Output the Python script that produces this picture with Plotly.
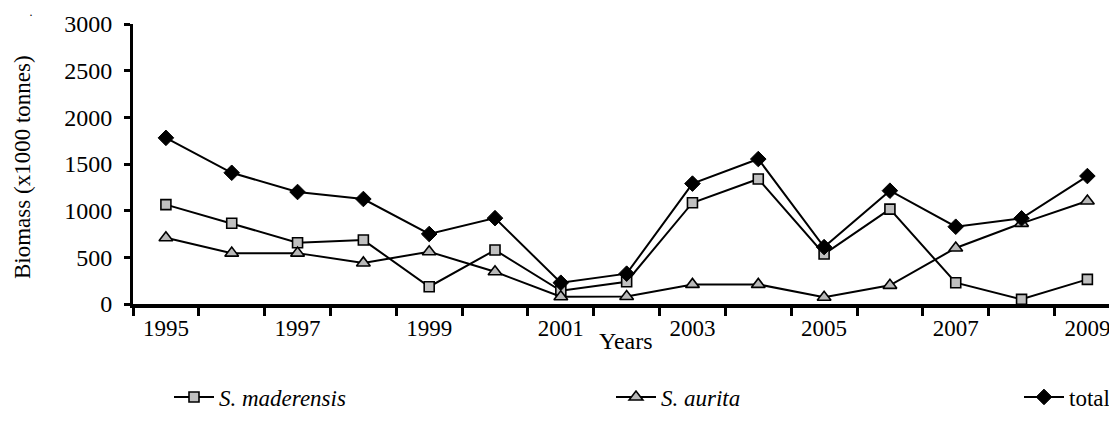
import plotly.graph_objects as go

years = list(range(1995, 2010))
s_maderensis = [1065, 865, 657, 685, 185, 578, 142, 239, 1085, 1339, 535, 1017, 228, 50, 264]
s_aurita = [710, 545, 545, 440, 560, 345, 78, 80, 210, 210, 72, 200, 600, 864, 1103]
total = [1780, 1406, 1200, 1125, 750, 920, 228, 325, 1290, 1553, 610, 1214, 828, 918, 1371]

x_label_years = [1995, 1997, 1999, 2001, 2003, 2005, 2007, 2009]
boundaries = [y - 0.5 for y in years] + [2009.5]

FONT = "Liberation Serif"
# the page body adds an 8px offset, so the figure is 8px smaller than the window
W, H = 1109, 419
PL, PT, PH = 125, 16, 280          # plot-area left, top, height in figure px
PB = PT + PH                        # plot-area bottom
PW = W - PL


def px_x(sx):
    """screen x -> paper x"""
    return (sx - 8 - PL) / PW


def px_y(sy):
    """screen y -> paper y"""
    return (PB - (sy - 8)) / PH


fig = go.Figure()
fig.add_trace(go.Scatter(
    x=years, y=s_maderensis, mode="lines+markers", name="<i>S. maderensis</i>",
    line=dict(color="black", width=2),
    marker=dict(symbol="square", size=10, color="#c0c0c0", line=dict(color="black", width=1.6)),
    legend="legend"))
fig.add_trace(go.Scatter(
    x=years, y=s_aurita, mode="lines+markers", name="<i>S. aurita</i>",
    line=dict(color="black", width=2),
    marker=dict(symbol="triangle-up", size=12, color="#b8b8b8", line=dict(color="black", width=1.6)),
    legend="legend2"))
fig.add_trace(go.Scatter(
    x=years, y=total, mode="lines+markers", name="total",
    line=dict(color="black", width=2),
    marker=dict(symbol="diamond", size=12, color="black", line=dict(color="black", width=1)),
    legend="legend3"))

legend_common = dict(orientation="h", yanchor="middle", y=1 - (397 - 8) / H,
                     xref="container", yref="container", itemwidth=40,
                     font=dict(family=FONT, size=23, color="black"),
                     bgcolor="rgba(0,0,0,0)", borderwidth=0)
fig.update_layout(
    legend=dict(x=(169 - 8) / W, xanchor="left", **legend_common),
    legend2=dict(x=(611 - 8) / W, xanchor="left", **legend_common),
    legend3=dict(x=(1019 - 8) / W, xanchor="left", **legend_common),
)

fig.update_xaxes(
    range=[1994.5, 2009.45],
    tickmode="array", tickvals=x_label_years, ticktext=[str(v) for v in x_label_years],
    ticks="", showgrid=False, zeroline=False, tickangle=0,
    showline=True, linecolor="black", linewidth=4,
    tickfont=dict(family=FONT, size=23, color="black"),
    minor=dict(tickmode="array", tickvals=boundaries, ticks="outside", ticklen=8,
               tickwidth=3, tickcolor="black", showgrid=False),
    automargin=False,
)
fig.update_yaxes(
    range=[0, 3000], tickmode="linear", tick0=0, dtick=500,
    ticks="outside", ticklen=6, tickwidth=3, tickcolor="black",
    showgrid=False, zeroline=False,
    showline=True, linecolor="black", linewidth=3,
    tickfont=dict(family=FONT, size=24, color="black"),
    ticklabelstandoff=7,
    automargin=False,
)

# axis titles
fig.add_annotation(text="Years", xref="paper", yref="paper",
                   x=px_x(626), y=px_y(341), xanchor="center", yanchor="middle",
                   showarrow=False, font=dict(family=FONT, size=24, color="black"))
fig.add_annotation(text="Biomass (x1000 tonnes)", xref="paper", yref="paper",
                   x=px_x(22), y=px_y(167), xanchor="center", yanchor="middle", textangle=-90,
                   showarrow=False, font=dict(family=FONT, size=23, color="black"))
fig.add_annotation(text="·", xref="paper", yref="paper",
                   x=px_x(31), y=px_y(15), xanchor="center", yanchor="middle",
                   showarrow=False, font=dict(family=FONT, size=12, color="black"))

fig.update_layout(
    width=W, height=H,
    margin=dict(l=PL, r=0, t=PT, b=H - PB, autoexpand=False),
    plot_bgcolor="white", paper_bgcolor="white",
    showlegend=True,
    font=dict(family=FONT, color="black"),
)

fig.write_html("out.html")
